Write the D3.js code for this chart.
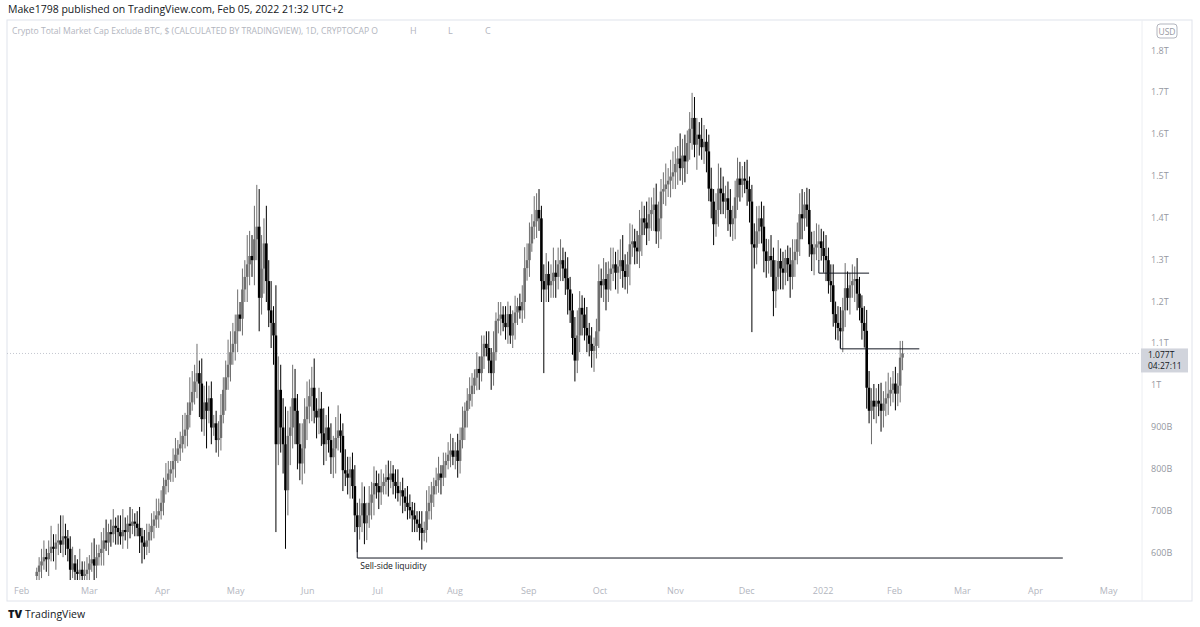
<!DOCTYPE html>
<html>
<head>
<meta charset="utf-8">
<script src="https://cdn.jsdelivr.net/npm/d3@7"></script>
<style>
body { margin:0; background:#fff; }
text { font-family: "Open Sans", sans-serif; }
</style>
</head>
<body>
<svg id="chart" width="1200" height="627"></svg>
<script>
// daily closes (billions USD), one array per month, first candle Feb 8 2021
const closesFeb21 = [555,570,580,590,585,600,615,610,625,630,620,640,635,610,560,575,555,550,560,545,550];
const closesMar21 = [560,575,585,570,590,600,610,630,625,650,645,665,660,650,640,655,650,670,665,675,670,660,640,625,615,630,650,665,680,690,700];
const closesApr21 = [720,760,775,790,800,820,835,850,860,880,895,930,960,985,1010,1030,1005,920,960,940,970,900,910,870,875,930,990,1020,1050,1080];
const closesMay21 = [1100,1130,1170,1160,1230,1260,1290,1310,1300,1350,1380,1210,1280,1340,1250,1180,1150,1120,860,990,900,860,750,880,900,970,940,860,814,850,920];
const closesJun21 = [950,975,995,940,924,945,886,860,900,870,829,850,875,893,880,798,790,780,800,760,690,662,690,719,671,690,720,740,767,760];
const closesJul21 = [745,760,770,781,775,790,770,760,743,750,735,720,710,702,690,680,670,660,648,655,700,720,740,760,774,790,780,810,820,835,845];
const closesAug21 = [830,845,820,870,900,940,964,980,1000,1019,1040,1030,1070,1100,1090,1060,1030,1080,1155,1160,1170,1150,1140,1171,1120,1150,1175,1190,1180,1200,1281];
const closesSep21 = [1300,1340,1380,1393,1420,1400,1250,1230,1267,1240,1250,1270,1260,1290,1300,1280,1257,1230,1180,1114,1060,1120,1186,1170,1138,1120,1100,1083,1095,1130];
const closesOct21 = [1250,1240,1255,1230,1267,1280,1290,1270,1285,1300,1274,1260,1290,1338,1345,1330,1321,1360,1400,1390,1376,1410,1420,1433,1369,1400,1464,1470,1481,1490,1500];
const closesNov21 = [1510,1530,1543,1520,1550,1536,1580,1614,1640,1576,1600,1590,1570,1583,1560,1471,1440,1386,1420,1471,1460,1440,1448,1420,1386,1400,1450,1495,1480,1495];
const closesDec21 = [1490,1470,1440,1338,1330,1369,1400,1380,1321,1298,1310,1300,1226,1260,1298,1280,1270,1305,1290,1260,1300,1320,1350,1410,1400,1433,1420,1338,1314,1330,1338];
const closesJan22 = [1345,1329,1310,1300,1250,1240,1171,1150,1138,1130,1180,1233,1210,1240,1250,1255,1220,1186,1150,1131,995,940,964,950,964,957,940,957,970,981,990];
const closesFeb22 = [1005,981,1000,1067,1077];

// wick lengths above / below the body (tens of billions)
const wickUp = [
 1,2,3,4,2,3,5,3,2,4,6,5,3,2,3,4,2,3,5,2,3,
 3,2,4,5,3,2,4,3,5,2,3,4,2,3,4,5,3,2,4,3,2,3,5,2,3,4,2,3,2,4,3,
 3,2,4,3,2,3,4,2,3,5,4,3,6,5,4,7,3,6,4,5,3,4,2,3,4,5,3,4,6,5,
 5,4,6,3,5,4,7,6,5,8,10,9,8,6,9,5,7,4,12,8,6,7,9,6,5,8,7,4,5,6,5,
 6,4,5,7,3,5,4,6,3,5,4,3,5,6,4,3,5,4,3,4,5,3,4,5,4,3,4,3,4,3,
 3,4,2,3,4,3,2,3,4,2,3,2,4,3,2,3,2,3,4,2,5,4,3,2,3,4,2,3,2,3,4,
 3,2,4,3,5,2,3,4,3,2,4,3,5,2,3,4,3,5,2,4,3,2,4,3,2,3,4,2,3,4,5,
 4,5,3,6,4,5,3,4,5,3,4,6,3,4,5,3,4,5,3,4,5,6,4,3,4,5,3,4,2,3,
 4,3,5,4,3,5,4,3,4,5,6,4,3,5,4,3,4,6,4,3,5,4,3,4,5,4,3,4,5,3,4,
 5,4,3,6,4,5,3,4,6,5,4,3,5,4,3,4,5,3,4,6,5,4,3,4,5,3,4,5,4,3,
 4,5,3,4,5,6,3,4,5,3,4,5,3,4,5,3,4,2,3,4,5,3,4,5,6,3,4,5,3,4,5,
 4,3,4,5,3,4,5,3,4,5,3,6,4,3,4,3,5,4,3,4,5,4,3,4,3,4,5,3,4,5,3,
 3,4,3,4,3
];
const wickDown = [
 1,2,3,2,3,4,2,3,5,3,2,3,4,3,5,2,3,2,3,2,2,
 2,3,2,4,3,2,3,4,2,3,3,2,4,3,2,3,2,4,3,2,3,2,4,5,3,2,3,2,3,2,3,
 2,3,2,3,2,3,4,2,3,2,3,4,3,2,3,4,8,3,4,9,3,4,2,3,4,3,2,5,3,4,
 3,4,5,3,4,3,6,5,4,6,5,8,4,6,5,4,6,7,21,5,6,7,14,6,7,5,8,6,4,5,6,
 5,4,6,3,5,4,3,5,4,3,4,5,6,3,4,5,3,4,5,3,4,6,3,4,5,4,3,4,5,3,
 4,3,2,3,4,2,3,3,2,3,4,2,3,2,4,3,2,3,4,2,3,2,4,3,2,3,4,2,3,2,3,
 2,3,4,3,2,3,4,2,3,2,3,4,2,3,2,3,4,3,2,3,4,2,3,4,2,3,4,3,2,3,4,
 3,4,2,3,4,3,5,20,3,4,3,4,5,3,4,3,4,6,3,4,5,3,4,5,3,4,3,4,5,3,
 4,3,4,5,3,4,3,4,5,3,4,3,4,5,3,4,3,4,5,3,4,3,4,5,3,4,5,3,4,3,4,
 3,4,5,3,4,5,3,4,5,3,6,4,3,4,5,3,4,5,3,4,5,3,4,5,3,4,5,3,4,3,
 3,4,5,21,5,4,3,4,5,4,3,4,6,4,3,5,4,3,4,5,3,4,3,4,5,3,4,3,4,5,3,
 4,3,4,5,3,4,3,4,3,4,5,4,3,4,3,5,4,3,4,4,5,3,8,3,4,3,5,4,3,4,3,
 3,4,3,4,3
];

const monthTicks = ["Feb","Mar","Apr","May","Jun","Jul","Aug","Sep","Oct","Nov","Dec","2022","Feb","Mar","Apr","May"];
const priceTicks = [600,700,800,900,1000,1100,1200,1300,1400,1500,1600,1700,1800];
const priceLabels = ["600B","700B","800B","900B","1T","1.1T","1.2T","1.3T","1.4T","1.5T","1.6T","1.7T","1.8T"];

const closes = [].concat(closesFeb21,closesMar21,closesApr21,closesMay21,closesJun21,closesJul21,
  closesAug21,closesSep21,closesOct21,closesNov21,closesDec21,closesJan22,closesFeb22);
const start = new Date(2021,1,8);
let data = closes.map((c,i) => {
  const o = i === 0 ? c - 10 : closes[i-1];
  return {date: d3.timeDay.offset(start, i), o: o, c: c,
    h: Math.max(o,c) + wickUp[i]*10, l: Math.min(o,c) - wickDown[i]*10};
});

const svg = d3.select("#chart");
const x = d3.scaleTime().domain([new Date(2021,1,1), new Date(2022,1,1)]).range([20, 893]);
const y = d3.scaleLinear().domain([600,1800]).range([553,51]);

// header
svg.append("text").attr("x",8).attr("y",13).attr("font-size",10.5).attr("fill","#131722")
  .text("Make1798 published on TradingView.com, Feb 05, 2022 21:32 UTC+2");
svg.append("rect").attr("x",7).attr("y",20).attr("width",1185).attr("height",581)
  .attr("fill","none").attr("stroke","#e0e3eb");
svg.append("line").attr("x1",1142).attr("x2",1142).attr("y1",20).attr("y2",601).attr("stroke","#eceef2");
svg.append("text").attr("x",12).attr("y",34).attr("font-size",9).attr("fill","#b2b5be")
  .attr("textLength",366).attr("lengthAdjust","spacingAndGlyphs")
  .text("Crypto Total Market Cap Exclude BTC, $ (CALCULATED BY TRADINGVIEW), 1D, CRYPTOCAP  O");
[["H",410],["L",448],["C",485]].forEach(d =>
  svg.append("text").attr("x",d[1]).attr("y",34).attr("font-size",9).attr("fill","#b2b5be").text(d[0]));
svg.append("rect").attr("x",1157).attr("y",24).attr("width",20).attr("height",14).attr("rx",3)
  .attr("fill","none").attr("stroke","#b2b5be");
svg.append("text").attr("x",1167).attr("y",34.5).attr("text-anchor","middle").attr("font-size",8.5).attr("fill","#9598a1").text("USD");

// price scale
svg.append("g").selectAll("text").data(priceTicks).enter().append("text")
  .attr("x",1151).attr("y",d => y(d)+2.5).attr("font-size",9).attr("fill","#9598a1")
  .text((d,i) => priceLabels[i]);

// time axis
const monthDates = monthTicks.map((m,i) => new Date(2021, 1+i, 1));
svg.append("g").selectAll("text").data(monthDates).enter().append("text")
  .attr("x",d => x(d)-6).attr("y",594).attr("font-size",9).attr("fill","#b2b5be")
  .text((d,i) => monthTicks[i]);

// last price line
const last = data[data.length-1].c;
svg.append("line").attr("x1",7).attr("x2",1142).attr("y1",y(last)).attr("y2",y(last))
  .attr("stroke","#c4c7cf").attr("stroke-dasharray","1,2");

const plot = svg.append("g").attr("clip-path","url(#clip)");
svg.append("clipPath").attr("id","clip").append("rect").attr("x",7).attr("y",20).attr("width",1135).attr("height",560);

const col = d => d.c >= d.o ? "#6e6e6e" : "#000";
plot.selectAll(".wick").data(data).enter().append("line").attr("class","wick")
  .attr("x1",d => x(d.date)).attr("x2",d => x(d.date))
  .attr("y1",d => y(d.h)).attr("y2",d => y(d.l))
  .attr("stroke",col).attr("stroke-width",1);
plot.selectAll(".bar").data(data).enter().append("rect").attr("class","bar")
  .attr("x",d => x(d.date)-1.3).attr("width",2.6)
  .attr("y",d => y(Math.max(d.o,d.c)))
  .attr("height",d => Math.max(1, Math.abs(y(d.o)-y(d.c))))
  .attr("fill",col);

// drawn levels
const lvl = (d0,d1,v,vTop) => {
  svg.append("line").attr("x1",x(d0)).attr("x2",x(d1)).attr("y1",y(v)).attr("y2",y(v)).attr("stroke","#131722");
  svg.append("line").attr("x1",x(d0)).attr("x2",x(d0)).attr("y1",y(vTop)).attr("y2",y(v)).attr("stroke","#131722");
};
lvl(new Date(2021,5,22), new Date(2022,3,13), 588, 662);
lvl(new Date(2022,0,1), new Date(2022,0,22), 1269, 1300);
lvl(new Date(2022,0,10), new Date(2022,1,12), 1088, 1120);
svg.append("text").attr("x",x(new Date(2021,5,22))+3).attr("y",569).attr("font-size",8.5).attr("fill","#131722").text("Sell-side liquidity");

// price label
svg.append("rect").attr("x",1141).attr("y",y(last)-5).attr("width",47).attr("height",24).attr("fill","#d1d4dc");
svg.append("text").attr("x",1148).attr("y",y(last)+5).attr("font-size",8.5).attr("fill","#131722").text("1.077T");
svg.append("text").attr("x",1148).attr("y",y(last)+16).attr("font-size",8.5).attr("fill","#131722").text("04:27:11");

// logo
svg.append("text").attr("x",8).attr("y",618).attr("font-size",11).attr("font-weight","900").attr("fill","#131722").text("TV");
svg.append("text").attr("x",25).attr("y",618).attr("font-size",10.5).attr("fill","#131722").text("TradingView");
</script>
</body>
</html>
